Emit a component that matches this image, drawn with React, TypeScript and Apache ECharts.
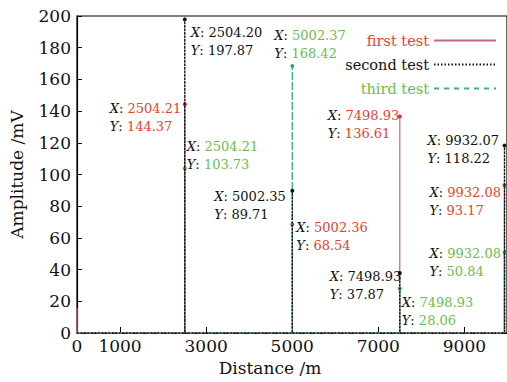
import React, { useEffect, useRef } from "react";
import * as echarts from "echarts";

// ---- data ----
const xTickValues = [0, 1000, 3000, 5000, 7000, 9000];
const seriesNames = ["first test", "second test", "third test"];

const firstTestX = [2504.21, 5002.36, 7498.93, 9932.08];
const firstTestY = [144.37, 68.54, 136.61, 93.17];
const firstTestStart = 16;

const secondTestX = [2504.2, 5002.35, 7498.93, 9932.07];
const secondTestY = [197.87, 89.71, 37.87, 118.22];
const secondTestStart = 0;

const thirdTestX = [2504.21, 5002.37, 7498.93, 9932.08];
const thirdTestY = [103.73, 168.42, 28.06, 50.84];
const thirdTestStart = 0;

const baseline = 0;

// ---- layout (label offsets relative to the peak marker) ----
const firstLabelOffsets = [[-73, -3], [6, -4], [-70, -8], [-73, 0]];
const secondLabelOffsets = [[8, 6], [-76, -1], [-68, -3], [-75, -12]];
const thirdLabelOffsets = [[4, -29], [-16, -38], [4, 7], [-73, -6]];

const FONT = "DejaVu Serif";
const RED_TEXT = "#e5432d";
const RED_LINE = "#c46a84";
const GREEN_TEXT = "#6cbb4f";
const GREEN_LINE = "#3db57c";
const BLACK = "#111111";

function buildData(
  start: number,
  xs: number[],
  ys: number[],
  offsets: number[][],
  textColor: string,
  dotColor: string
) {
  const data: any[] = [[0, start], [1, baseline]];
  xs.forEach((x, i) => {
    data.push([x - 1, baseline]);
    data.push({
      value: [x, ys[i]],
      symbol: "circle",
      symbolSize: 4,
      itemStyle: { color: dotColor },
      label: {
        show: true,
        position: offsets[i],
        align: "left",
        verticalAlign: "top",
        formatter: () =>
          `{k|X}{p|: }{v|${x.toFixed(2)}}\n{k|Y}{p|: }{v|${ys[i].toFixed(2)}}`,
        rich: {
          k: { fontFamily: FONT, fontSize: 13, fontStyle: "italic", color: BLACK, lineHeight: 18 },
          p: { fontFamily: FONT, fontSize: 13, color: BLACK, lineHeight: 18 },
          v: { fontFamily: FONT, fontSize: 13, color: textColor, lineHeight: 18 },
        },
      },
    });
    data.push([x + 1, baseline]);
  });
  return data;
}

export default function App() {
  const ref = useRef<HTMLDivElement>(null);

  useEffect(() => {
    if (!ref.current) return;
    const chart = echarts.init(ref.current, null, { renderer: "svg" });
    chart.setOption({
      animation: false,
      backgroundColor: "#ffffff",
      textStyle: { fontFamily: FONT },
      grid: {
        left: 74,
        right: -1,
        top: 16,
        bottom: 49,
        show: true,
        borderColor: "#000",
        borderWidth: 1.2,
      },
      legend: {
        orient: "vertical",
        right: 5,
        top: 28,
        align: "right",
        itemWidth: 62,
        itemHeight: 14,
        itemGap: 9,
        itemStyle: { opacity: 0 },
        data: [
          { name: seriesNames[0], textStyle: { color: RED_TEXT } },
          { name: seriesNames[1], textStyle: { color: BLACK } },
          { name: seriesNames[2], textStyle: { color: GREEN_TEXT } },
        ],
        textStyle: { fontFamily: FONT, fontSize: 14.5 },
      },
      xAxis: {
        type: "value",
        min: 0,
        max: 9990,
        name: "Distance /m",
        nameLocation: "middle",
        nameGap: 26,
        nameTextStyle: {
          fontFamily: FONT,
          fontSize: 17,
          color: BLACK,
          padding: [0, 44, 0, 0],
        },
        axisLine: { show: true, lineStyle: { color: "#000", width: 1.2 } },
        axisTick: {
          show: true,
          inside: true,
          length: 6,
          customValues: xTickValues,
          lineStyle: { color: "#000" },
        },
        axisLabel: {
          customValues: xTickValues,
          formatter: (v: number) => String(v),
          fontFamily: FONT,
          fontSize: 17,
          color: BLACK,
          margin: 4,
          hideOverlap: false,
        },
        splitLine: { show: false },
      },
      yAxis: {
        type: "value",
        min: 0,
        max: 200,
        interval: 20,
        name: "Amplitude /mV",
        nameLocation: "middle",
        nameGap: 52,
        nameTextStyle: { fontFamily: FONT, fontSize: 17, color: BLACK },
        axisLine: { show: true, lineStyle: { color: "#000", width: 1.2 } },
        axisTick: { show: true, inside: true, length: 5, lineStyle: { color: "#000" } },
        axisLabel: { fontFamily: FONT, fontSize: 17, color: BLACK, margin: 6 },
        splitLine: { show: false },
      },
      series: [
        {
          name: seriesNames[0],
          type: "line",
          z: 2,
          symbol: "none",
          showSymbol: true,
          color: RED_LINE,
          lineStyle: { color: RED_LINE, width: 1.2, type: "solid" },
          data: buildData(firstTestStart, firstTestX, firstTestY, firstLabelOffsets, RED_TEXT, "#e02a2a"),
        },
        {
          name: seriesNames[1],
          type: "line",
          z: 4,
          symbol: "none",
          showSymbol: true,
          color: BLACK,
          lineStyle: { color: BLACK, width: 1.4, type: [1.5, 2] },
          data: buildData(secondTestStart, secondTestX, secondTestY, secondLabelOffsets, BLACK, BLACK),
        },
        {
          name: seriesNames[2],
          type: "line",
          z: 3,
          symbol: "none",
          showSymbol: true,
          color: GREEN_LINE,
          lineStyle: { color: GREEN_LINE, width: 1.4, type: [5, 5] },
          data: buildData(thirdTestStart, thirdTestX, thirdTestY, thirdLabelOffsets, GREEN_TEXT, "#2fae5a"),
        },
      ],
    });
    return () => chart.dispose();
  }, []);

  return (
    <div
      ref={ref}
      style={{ position: "absolute", left: 0, top: 0, width: 507, height: 382 }}
    />
  );
}
